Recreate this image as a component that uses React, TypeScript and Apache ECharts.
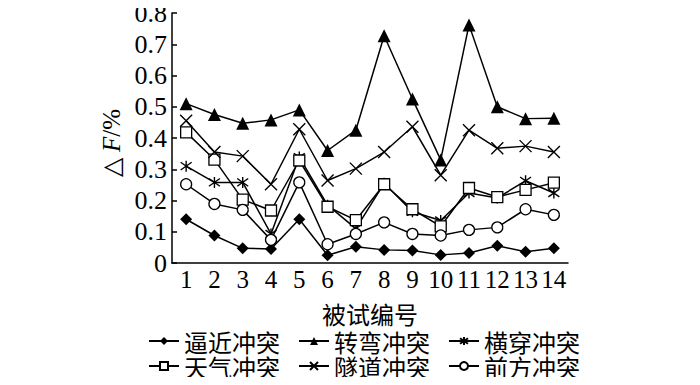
import React, { useEffect, useRef } from "react";
import * as echarts from "echarts";

const categories = ["1","2","3","4","5","6","7","8","9","10","11","12","13","14"];
const yTicks = [0, 0.1, 0.2, 0.3, 0.4, 0.5, 0.6, 0.7, 0.8];

const approach = [0.14, 0.088, 0.047, 0.045, 0.14, 0.025, 0.052, 0.042, 0.04, 0.026, 0.032, 0.055, 0.036, 0.047];
const turning = [0.51, 0.475, 0.447, 0.458, 0.49, 0.36, 0.425, 0.727, 0.525, 0.33, 0.762, 0.5, 0.462, 0.463];
const crossing = [0.31, 0.258, 0.258, 0.093, 0.339, 0.185, 0.11, 0.255, 0.164, 0.136, 0.224, 0.208, 0.263, 0.224];
const weather = [0.418, 0.331, 0.203, 0.168, 0.328, 0.18, 0.137, 0.252, 0.172, 0.117, 0.24, 0.211, 0.234, 0.257];
const tunnel = [0.455, 0.355, 0.342, 0.252, 0.428, 0.264, 0.302, 0.355, 0.436, 0.281, 0.425, 0.367, 0.374, 0.355];
const front = [0.252, 0.189, 0.17, 0.074, 0.258, 0.06, 0.093, 0.13, 0.093, 0.088, 0.106, 0.114, 0.172, 0.154];

const names = ["逼近冲突", "转弯冲突", "横穿冲突", "天气冲突", "隧道冲突", "前方冲突"];

const serif = "'Liberation Serif', 'Times New Roman', serif";
const cjk = "'Noto Sans CJK SC', sans-serif";

export default function App() {
  const ref = useRef<HTMLDivElement>(null);
  useEffect(() => {
    if (!ref.current) return;
    const chart = echarts.init(ref.current, undefined, { renderer: "svg" });
    const mk = (name: string, data: number[], symbol: string, size: number, filled: boolean) => ({
      name,
      type: "line",
      data,
      symbol,
      symbolSize: size,
      lineStyle: { color: "#000", width: 1.5 },
      itemStyle: {
        color: filled ? "#000" : "#fff",
        borderColor: "#000",
        borderWidth: filled ? 0 : 1.3,
      },
    });
    const pathItem = (name: string, data: number[], symbol: string, size: number) => ({
      name,
      type: "line",
      data,
      symbol,
      symbolSize: size,
      lineStyle: { color: "#000", width: 1.5 },
      itemStyle: { color: "#000", borderColor: "#000", borderWidth: 1.4 },
    });
    const legendBase = {
      itemWidth: 30,
      itemHeight: 10,
      itemGap: 18,
      padding: 0,
      textStyle: { fontFamily: cjk, fontSize: 24, lineHeight: 24, color: "#000" },
    };
    chart.setOption({
      animation: false,
      backgroundColor: "#fff",
      grid: { left: 172, top: 10, right: 132, bottom: 122, containLabel: false },
      legend: [
        { ...legendBase, data: names.slice(0, 3), left: 148, top: 329 },
        { ...legendBase, data: names.slice(3, 6), left: 148, top: 354 },
      ],
      xAxis: {
        type: "category",
        data: categories,
        boundaryGap: true,
        name: "被试编号",
        nameLocation: "middle",
        nameGap: 38,
        nameTextStyle: { fontFamily: cjk, fontSize: 24, color: "#000" },
        axisLine: { lineStyle: { color: "#000", width: 1.5 } },
        axisTick: { inside: true, length: 5, lineStyle: { color: "#000", width: 1.5 } },
        axisLabel: { fontFamily: serif, fontSize: 25, color: "#000", margin: 4, interval: 0 },
      },
      yAxis: {
        type: "value",
        min: 0,
        max: 0.8,
        interval: 0.1,
        name: "{d|△ }{f|F}{d|/%}",
        nameLocation: "middle",
        nameGap: 46,
        nameTextStyle: {
          rich: {
            d: { fontFamily: serif, fontSize: 25, color: "#000" },
            f: { fontFamily: serif, fontSize: 25, color: "#000", fontStyle: "italic" },
          },
          padding: [0, 10, 0, 0],
        },
        splitLine: { show: false },
        axisLine: { show: true, lineStyle: { color: "#000", width: 1.5 } },
        axisTick: { show: true, inside: true, length: 5, lineStyle: { color: "#000", width: 1.5 } },
        axisLabel: {
          fontFamily: serif,
          fontSize: 26,
          color: "#000",
          margin: 5,
          formatter: (v: number) => {
            const t = yTicks.find((x) => Math.abs(x - v) < 1e-6);
            const val = t === undefined ? v : t;
            return val === 0 ? "0" : val.toFixed(1);
          },
        },
      },
      series: [
        mk(names[0], approach, "diamond", 12, true),
        mk(names[1], turning, "triangle", 13, true),
        pathItem(names[2], crossing, "path://M1.5 1.5L8.5 8.5M8.5 1.5L1.5 8.5M5 0L5 10", 11),
        mk(names[3], weather, "rect", 11, false),
        pathItem(names[4], tunnel, "path://M0 0L10 10M10 0L0 10", 12),
        mk(names[5], front, "circle", 11, false),
      ],
    });
    return () => chart.dispose();
  }, []);
  return <div ref={ref} style={{ width: 700, height: 385, margin: -8 }} />;
}
